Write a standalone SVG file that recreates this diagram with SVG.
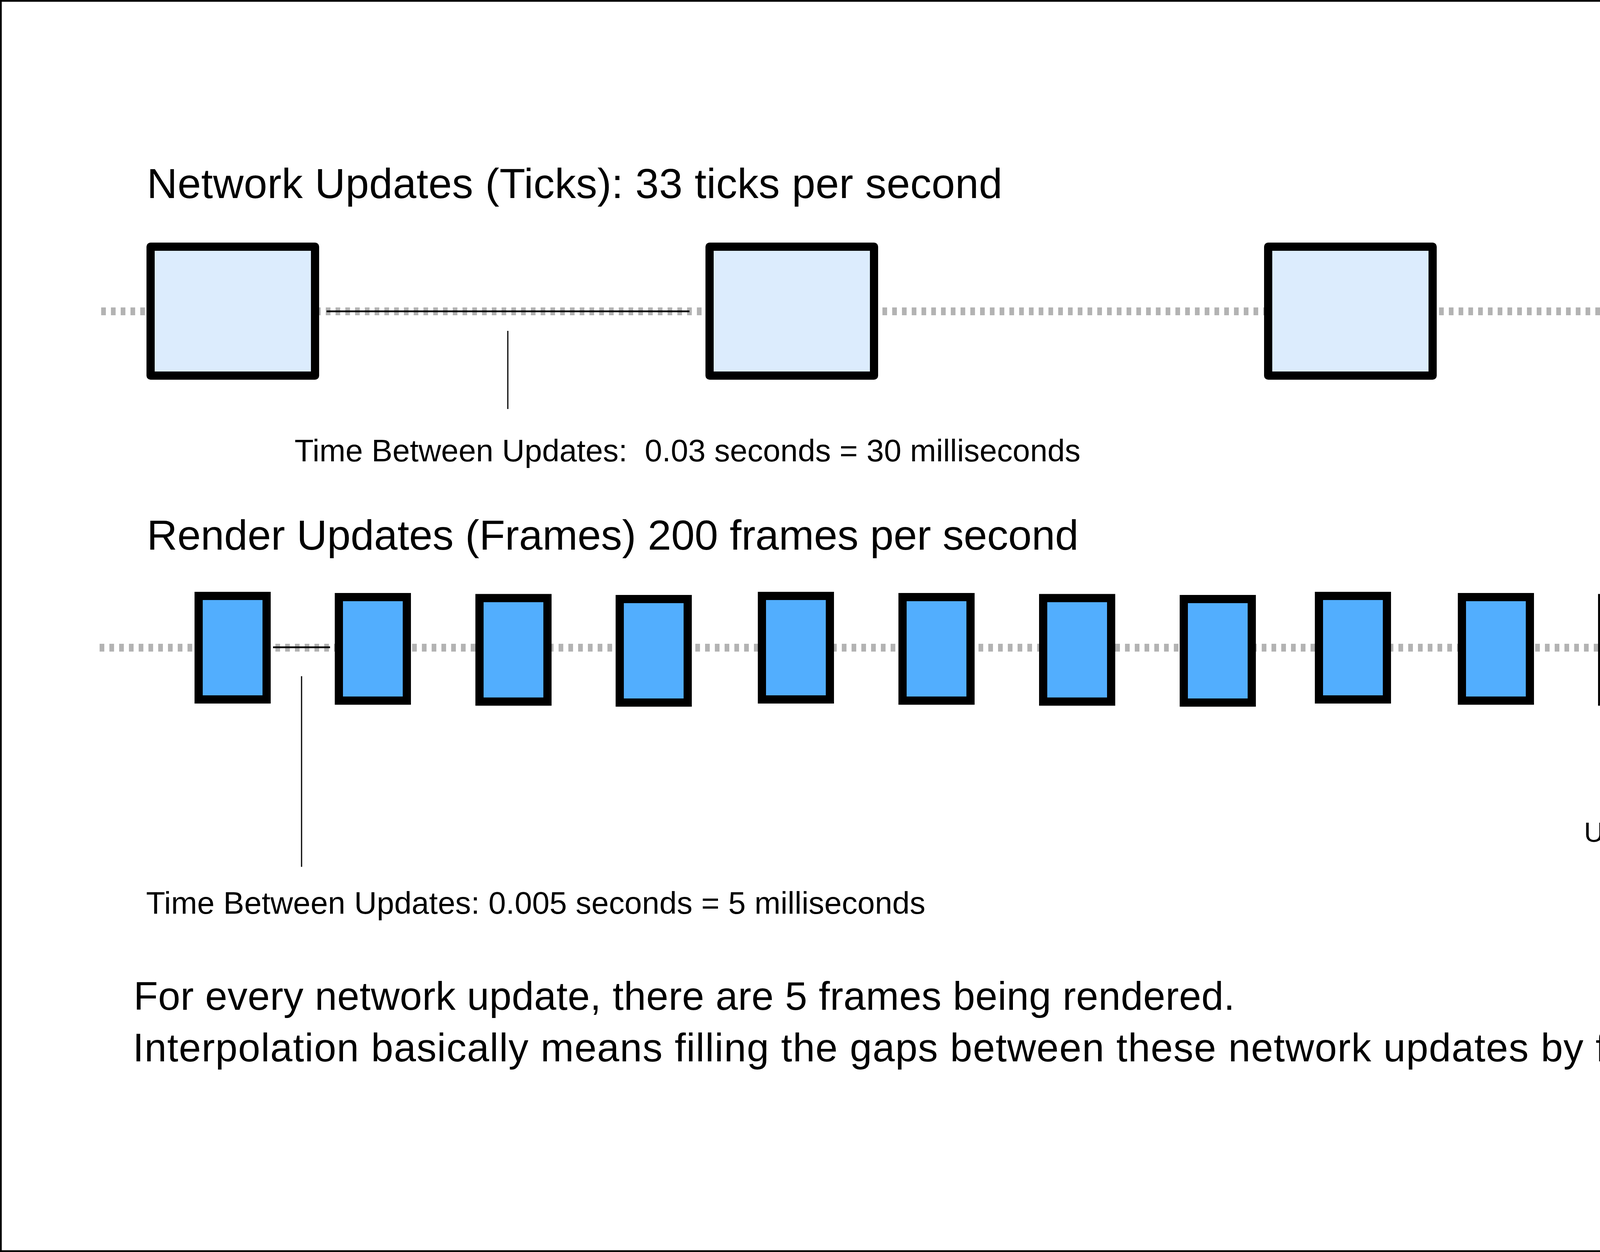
<svg xmlns="http://www.w3.org/2000/svg" xmlns:xlink="http://www.w3.org/1999/xlink" width="5697" height="3205" viewBox="0 0 5697 3205">
  <style>
    text { font-family: "Liberation Sans", Arial, sans-serif; fill: #000; }
    .title { font-size: 108px; }
    .label { font-size: 80px; }
    .formula { font-size: 71px; }
    .note { font-size: 102px; }
    .timeline { stroke: #b3b3b3; stroke-width: 20; stroke-dasharray: 12 13; fill: none; }
    .measure { stroke: #000; stroke-width: 4.6; fill: none; }
    .leader { stroke: #000; stroke-width: 3; fill: none; }
    .tick { fill: #dcecfd; stroke: #000; stroke-width: 21; stroke-linejoin: round; }
    .frame { fill: #52aefe; stroke: #000; stroke-width: 21; }
    .head { fill: #b3b3b3; stroke: none; }
  </style>
  <defs>
    <path id="arrowhead" d="M0,0 Q-96,-37 -178,-100 L-147,0 L-178,100 Q-96,37 0,0 Z"/>
  </defs>

  <rect x="0" y="0" width="5697" height="3205" fill="#fff"/>
  <rect x="2.25" y="2.25" width="5692.5" height="3200.5" fill="none" stroke="#000" stroke-width="4.5"/>

  <g id="connectors">
    <line class="timeline" x1="259" y1="797" x2="5270" y2="797"/>
    <use xlink:href="#arrowhead" class="head" transform="translate(5413,797)"/>
    <line class="timeline" x1="255" y1="1658" x2="5265" y2="1658"/>
    <use xlink:href="#arrowhead" class="head" transform="translate(5409,1658)"/>
    <line class="measure" x1="836" y1="797" x2="1765" y2="797"/>
    <line class="leader" x1="1300" y1="847" x2="1300" y2="1047"/>
    <line class="measure" x1="699" y1="1657" x2="845" y2="1657"/>
    <line class="leader" x1="772" y1="1731" x2="772" y2="2219"/>
    <line x1="4570" y1="2124" x2="5306" y2="2124" stroke="#000" stroke-width="2.5"/>
  </g>

  <g id="tick-1"><rect class="tick" x="385.5" y="631.5" width="421" height="330"/></g>
  <g id="tick-2"><rect class="tick" x="1816.5" y="631.5" width="421" height="330"/></g>
  <g id="tick-3"><rect class="tick" x="3246.5" y="631.5" width="421" height="330"/></g>
  <g id="tick-4"><rect class="tick" x="4677.5" y="631.5" width="421" height="330"/></g>

  <g id="frame-1"><rect class="frame" x="508.5" y="1525.5" width="174" height="265"/></g>
  <g id="frame-2"><rect class="frame" x="867.5" y="1528.5" width="174" height="265"/></g>
  <g id="frame-3"><rect class="frame" x="1227.5" y="1531" width="174" height="265"/></g>
  <g id="frame-4"><rect class="frame" x="1586.5" y="1533.5" width="174" height="265"/></g>
  <g id="frame-5"><rect class="frame" x="1950.5" y="1525.5" width="174" height="265"/></g>
  <g id="frame-6"><rect class="frame" x="2310.5" y="1528.5" width="174" height="265"/></g>
  <g id="frame-7"><rect class="frame" x="2670.5" y="1531" width="174" height="265"/></g>
  <g id="frame-8"><rect class="frame" x="3030.5" y="1533.5" width="174" height="265"/></g>
  <g id="frame-9"><rect class="frame" x="3376.5" y="1525.5" width="174" height="265"/></g>
  <g id="frame-10"><rect class="frame" x="3742.5" y="1528.5" width="174" height="265"/></g>
  <g id="frame-11"><rect class="frame" x="4101.5" y="1531" width="174" height="265"/></g>
  <g id="frame-12"><rect class="frame" x="4461.5" y="1533.5" width="174" height="265"/></g>
  <g id="frame-13"><rect class="frame" x="4809.5" y="1525.5" width="174" height="265"/></g>

  <g id="labels">
    <text class="title" x="376" y="507" textLength="2190">Network Updates (Ticks): 33 ticks per second</text>
    <text class="label" x="754" y="1181" textLength="2012" xml:space="preserve">Time Between Updates:  0.03 seconds = 30 milliseconds</text>
    <text class="title" x="376" y="1407" textLength="2385">Render Updates (Frames) 200 frames per second</text>
    <text class="label" x="374" y="2339" textLength="1995">Time Between Updates: 0.005 seconds = 5 milliseconds</text>
    <text class="formula" x="4055" y="2155" textLength="468">Update Rate =</text>
    <text class="formula" x="4930" y="2057" text-anchor="middle">1</text>
    <text class="formula" x="4557" y="2243" textLength="746">Time Between Updates</text>
    <text class="note" x="342" y="2585" textLength="2819">For every network update, there are 5 frames being rendered.</text>
    <text class="note" x="340" y="2717" textLength="5101">Interpolation basically means filling the gaps between these network updates by finding the values in between</text>
  </g>
</svg>
